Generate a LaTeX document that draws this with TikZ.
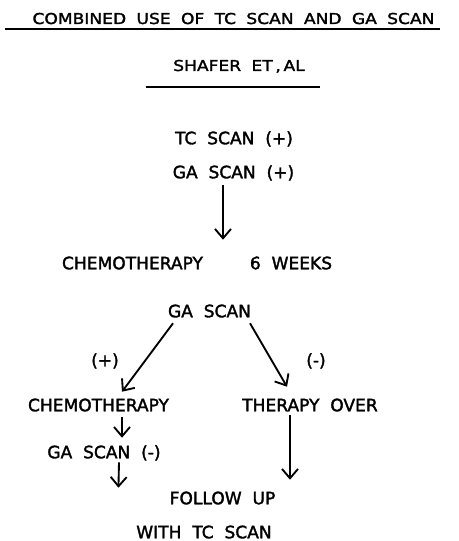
\documentclass[tikz,border=0pt]{standalone}
\usepackage{fontspec}
\setmainfont{DejaVu Sans}
\newfontfamily\titlefont[FakeStretch=1.14,WordSpace=1.9,FakeBold=1.8]{DejaVu Sans}
\newfontfamily\bodyfont[WordSpace=2.0,FakeBold=1.8]{DejaVu Sans}
\usetikzlibrary{arrows.meta}
\begin{document}
\begin{tikzpicture}[x=0.75pt,y=-0.75pt,
  ttl/.style={inner sep=0pt,font=\titlefont\fontsize{11.25}{12}\selectfont,text height=8.25pt,text depth=0pt},
  txt/.style={inner sep=0pt,font=\bodyfont\fontsize{12.8}{14}\selectfont,text height=9.4pt,text depth=0pt},
  arr/.style={line width=1.4pt,-{Straight Barb[length=7pt,width=12pt,line width=1.4pt]}},
  rule/.style={line width=1.5pt}]
\path[use as bounding box] (0,0) rectangle (459,541);
\node[ttl] (title) at (233.5,18.5) {COMBINED USE OF TC SCAN AND GA SCAN};
\node[ttl] (shafer) at (239,65.5) {SHAFER ET\kern2pt,\kern2pt AL};
\draw[rule] ([shift={(-27,4.5)}]title.south west) -- ([shift={(5,4.5)}]title.south east);
\draw[rule] ([shift={(-27,16)}]shafer.south west) -- ([shift={(15,16)}]shafer.south east);
\node[txt] (tc) at (234,138) {TC SCAN (+)};
\node[txt] (ga1) at (233.5,172) {GA SCAN (+)};
\node[txt] (chemo1) at (132.5,263) {CHEMOTHERAPY};
\node[txt] (weeks) at (291,263) {6 WEEKS};
\node[txt] (ga2) at (209.5,311) {GA SCAN};
\node[txt] (plus) at (105,360) {(+)};
\node[txt] (minus) at (316,360) {(-)};
\node[txt] (chemo2) at (98.5,405) {CHEMOTHERAPY};
\node[txt] (over) at (310,405) {THERAPY OVER};
\node[txt] (ga3) at (104,452) {GA SCAN (-)};
\node[txt] (follow) at (222.5,498) {FOLLOW UP};
\node[txt] (with) at (204,532) {WITH TC SCAN};
\draw[arr] ([shift={(-10.5,6.75)}]ga1.south) -- ([shift={(90.5,-16.75)}]chemo1.north);
\draw[arr] ([shift={(-36.5,5.75)}]ga2.south) -- ([shift={(23.5,-6.75)}]chemo2.north);
\draw[arr] ([shift={(40.5,5.75)}]ga2.south) -- ([shift={(-23,-11.75)}]over.north);
\draw[arr] ([shift={(23.5,5.75)}]chemo2.south) -- ([shift={(18,-7.75)}]ga3.north);
\draw[arr] ([shift={(15,3.75)}]ga3.south) -- ([shift={(-51,-3.75)}]follow.north west);
\draw[arr] ([shift={(-20,3.75)}]over.south) -- ([shift={(67.5,-11.75)}]follow.north);
\end{tikzpicture}
\end{document}
